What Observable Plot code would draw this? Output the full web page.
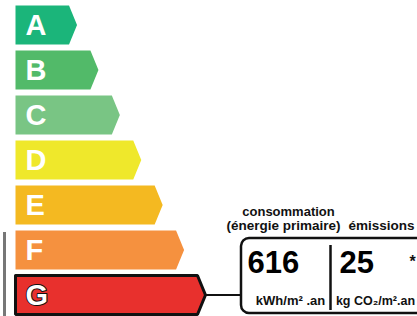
<!DOCTYPE html>
<html>
<head>
<meta charset="utf-8">
<script src="https://cdn.jsdelivr.net/npm/d3@7"></script>
<script src="https://cdn.jsdelivr.net/npm/@observablehq/plot@0.6"></script>
<style>
  html, body { margin: 0; padding: 0; background: #fff; overflow: hidden; }
  #chart svg { display: block; }
</style>
</head>
<body>
<div id="chart"></div>
<script>
// ---- data ----
const ratings = ["A", "B", "C", "D", "E", "F", "G"];
const ranks = [1, 2, 3, 4, 5, 6, 7];
const ratingColors = ["#1bb57a", "#52ba69", "#79c584", "#efe82b", "#f4b921", "#f5913f", "#e8302d"];
const currentRating = "G";
const consumptionValue = 616;
const emissionsValue = 25;
const consumptionUnit = "kWh/m² .an";
const emissionsUnit = "kg CO₂/m².an";
const headerLabels = ["consommation", "(énergie primaire)", "émissions"];

// ---- shape parameters (scale units) ----
const barStart = -1.5;   // left edge of every arrow
const halfHeight = 0.433; // half of the arrow height, in rows
const tipLength = 0.374;  // arrow point length, in rank units

const polygons = ratings.flatMap((r, i) => {
  const v = ranks[i];
  return [
    [barStart, v - halfHeight], [v, v - halfHeight], [v + tipLength, v],
    [v, v + halfHeight], [barStart, v + halfHeight], [barStart, v - halfHeight]
  ].map(([x, y]) => ({rating: r, color: ratingColors[i], x, y}));
});
const bars = ratings.map((r, i) => ({rating: r, rank: ranks[i]}));
const current = bars.find(d => d.rating === currentRating);

// pixel -> scale helpers for annotation placement
const X0 = 15, XS = 21.41, Y0 = 24.5, YS = 45;
const px = v => (v - X0) / XS + barStart;
const py = v => 1 + (v - Y0) / YS;

const boxLeft = px(241), boxRight = px(440), boxTop = py(238), boxBottom = py(313);
const font = "Liberation Sans, Arial, sans-serif";

const chart = Plot.plot({
  width: 417,
  height: 316,
  margin: 0,
  x: {domain: [barStart, 7], range: [X0, X0 + 8.5 * XS], axis: null},
  y: {domain: [1, 7], range: [Y0, Y0 + 6 * YS], axis: null},
  color: {type: "identity"},
  style: {background: "#fff", fontFamily: font},
  marks: [
    // left gray marker beside the current class
    Plot.ruleX([px(4)], {y1: py(232), y2: py(330), stroke: "#777", strokeWidth: 3}),
    // arrows
    Plot.line(polygons, {x: "x", y: "y", z: "rating", fill: "color", stroke: "none", curve: "linear"}),
    // outline for the current class
    Plot.line(polygons.filter(d => d.rating === currentRating), {
      x: "x", y: "y", z: "rating", stroke: "#111", strokeWidth: 3, strokeLinejoin: "miter", fill: "none"
    }),
    // letters
    Plot.text(bars, {
      x: () => barStart, y: "rank", text: "rating", textAnchor: "start", dx: 10, dy: 1,
      fill: "#fff", fontSize: 29, fontWeight: "bold", fontFamily: font,
      stroke: d => d.rating === currentRating ? "#111" : "none", strokeWidth: 2
    }),
    // connector from current class to the value box
    Plot.ruleY([current.rank], {x1: current.rank + tipLength, x2: boxLeft, stroke: "#111", strokeWidth: 2}),
    // value box
    Plot.rect([0], {x1: boxLeft, x2: boxRight, y1: boxTop, y2: boxBottom, rx: 8, fill: "#fff", stroke: "#111", strokeWidth: 2.5}),
    Plot.ruleX([px(330)], {y1: py(245), y2: py(310), stroke: "#111", strokeWidth: 2.5}),
    // headers
    Plot.text([headerLabels[0]], {x: px(288), y: py(215), text: d => d, lineAnchor: "bottom", fontSize: 13, fontWeight: "bold", fill: "#111", fontFamily: font}),
    Plot.text([headerLabels[1]], {x: px(283), y: py(229), text: d => d, lineAnchor: "bottom", fontSize: 13.5, fontWeight: "bold", fill: "#111", fontFamily: font}),
    Plot.text([headerLabels[2]], {x: px(381), y: py(229), text: d => d, lineAnchor: "bottom", fontSize: 13.5, fontWeight: "bold", fill: "#111", fontFamily: font}),
    // values
    Plot.text([consumptionValue], {x: px(247), y: py(272), text: d => String(d), textAnchor: "start", lineAnchor: "bottom", fontSize: 31, fontWeight: "bold", fill: "#000", fontFamily: font}),
    Plot.text([emissionsValue], {x: px(339), y: py(272), text: d => String(d), textAnchor: "start", lineAnchor: "bottom", fontSize: 31, fontWeight: "bold", fill: "#000", fontFamily: font}),
    Plot.text(["*"], {x: px(409), y: py(266), text: d => d, textAnchor: "start", lineAnchor: "bottom", fontSize: 16, fontWeight: "bold", fill: "#111", fontFamily: font}),
    // units
    Plot.text([consumptionUnit], {x: px(290), y: py(304), text: d => d, lineAnchor: "bottom", fontSize: 13, fontWeight: "bold", fill: "#111", fontFamily: font}),
    Plot.text([emissionsUnit], {x: px(375), y: py(304), text: d => d, lineAnchor: "bottom", fontSize: 12.5, fontWeight: "bold", fill: "#111", fontFamily: font})
  ]
});
document.getElementById("chart").append(chart);
</script>
</body>
</html>
